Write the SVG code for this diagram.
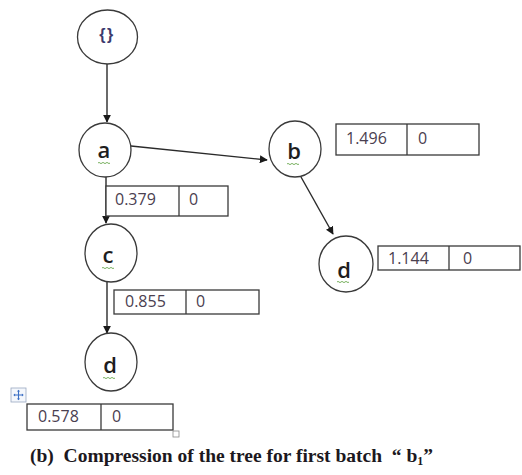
<svg xmlns="http://www.w3.org/2000/svg" width="522" height="475" viewBox="0 0 522 475">
  <style>
    .node { fill: #ffffff; stroke: #3a3a3a; stroke-width: 1.3; }
    .lbl { font-family: "Open Sans", "Liberation Sans", sans-serif; font-weight: 600; font-size: 22px; fill: #1e1e1e; }
    .squig { fill: none; stroke: #6aa84f; stroke-width: 0.9; }
    .cell { fill: #ffffff; stroke: #3a3a3a; stroke-width: 1.3; }
    .num { font-family: "Open Sans", "Liberation Sans", sans-serif; font-size: 16px; fill: #4a4050; }
    .edge { fill: none; stroke: #2a2a2a; stroke-width: 1.4; marker-end: url(#arrow); }
    .caption { font-family: "Liberation Serif", "Times New Roman", serif; font-weight: bold; font-size: 19.5px; fill: #1c1820; }
  </style>
  <defs>
    <marker id="arrow" viewBox="0 0 10 10" refX="9" refY="5" markerWidth="8" markerHeight="8" markerUnits="userSpaceOnUse" orient="auto">
      <path d="M0,0 L10,5 L0,10 z" fill="#1a1a1a"/>
    </marker>
    <path id="wave" d="M0,0 q1,-1.2 2,0 t2,0 t2,0 t2,0 t2,0 t2,0"/>
  </defs>

  <rect width="522" height="475" fill="#ffffff"/>

  <!-- connectors -->
  <g id="edges">
    <line class="edge" x1="107" y1="64" x2="107" y2="122"/>
    <line class="edge" x1="131" y1="146" x2="267" y2="160"/>
    <line class="edge" x1="106" y1="177" x2="106" y2="223"/>
    <line class="edge" x1="301" y1="177" x2="333" y2="234"/>
    <line class="edge" x1="107" y1="282" x2="107" y2="333"/>
  </g>

  <!-- root -->
  <g id="node-root">
    <ellipse class="node" cx="107.5" cy="37" rx="30" ry="27"/>
    <text x="107" y="40" text-anchor="middle" font-family="Liberation Sans, sans-serif" font-weight="bold" font-size="16" letter-spacing="1.5" fill="#3c3a6e">{}</text>
  </g>

  <!-- a -->
  <g id="node-a">
    <ellipse class="node" cx="105" cy="150" rx="26" ry="27"/>
    <text class="lbl" x="104" y="158" text-anchor="middle">a</text>
    <use href="#wave" class="squig" x="98" y="163"/>
  </g>

  <!-- b -->
  <g id="node-b">
    <ellipse class="node" cx="295" cy="149" rx="26" ry="28"/>
    <text class="lbl" x="294" y="159" text-anchor="middle">b</text>
    <use href="#wave" class="squig" x="287" y="164"/>
  </g>

  <!-- c -->
  <g id="node-c">
    <ellipse class="node" cx="111" cy="253" rx="26" ry="29"/>
    <text class="lbl" x="108" y="263" text-anchor="middle">c</text>
    <use href="#wave" class="squig" x="102" y="268"/>
  </g>

  <!-- d under c -->
  <g id="node-d1">
    <ellipse class="node" cx="111" cy="362" rx="26" ry="29"/>
    <text class="lbl" x="110" y="373" text-anchor="middle">d</text>
    <use href="#wave" class="squig" x="103" y="378"/>
  </g>

  <!-- d under b -->
  <g id="node-d2">
    <ellipse class="node" cx="346" cy="264" rx="27" ry="28"/>
    <text class="lbl" x="344" y="278" text-anchor="middle">d</text>
    <use href="#wave" class="squig" x="337" y="282"/>
  </g>

  <!-- value tables -->
  <g id="table-a">
    <rect class="cell" x="106" y="186" width="122" height="30"/>
    <line class="cell" x1="179" y1="186" x2="179" y2="216"/>
    <text class="num" x="115" y="205">0.379</text>
    <text class="num" x="189" y="205">0</text>
  </g>

  <g id="table-b">
    <rect class="cell" x="336" y="124" width="143" height="31"/>
    <line class="cell" x1="407" y1="124" x2="407" y2="155"/>
    <text class="num" x="346" y="144">1.496</text>
    <text class="num" x="418" y="144">0</text>
  </g>

  <g id="table-c">
    <rect class="cell" x="114" y="290" width="145" height="24"/>
    <line class="cell" x1="186" y1="290" x2="186" y2="314"/>
    <text class="num" x="125" y="307">0.855</text>
    <text class="num" x="196" y="307">0</text>
  </g>

  <g id="table-d2">
    <rect class="cell" x="378" y="246" width="142" height="24"/>
    <line class="cell" x1="449" y1="246" x2="449" y2="270"/>
    <text class="num" x="388" y="264">1.144</text>
    <text class="num" x="463" y="264">0</text>
  </g>

  <g id="table-d1">
    <rect class="cell" x="27" y="404" width="146" height="26"/>
    <line class="cell" x1="101" y1="404" x2="101" y2="430"/>
    <text class="num" x="38" y="422">0.578</text>
    <text class="num" x="112" y="422">0</text>
    <!-- table move handle and resize handle -->
    <rect x="11" y="388" width="15" height="14" fill="#f4f7fc" stroke="#9aa8c0" stroke-width="0.8"/>
    <path d="M18.5,390.5 v9 M14,395 h9" stroke="#3b6fc4" stroke-width="1.1"/>
    <path d="M18.5,389.8 l-1.6,1.8 h3.2 z M18.5,400.2 l-1.6,-1.8 h3.2 z M13.3,395 l1.8,-1.6 v3.2 z M23.7,395 l-1.8,-1.6 v3.2 z" fill="#3b6fc4"/>
    <rect x="173" y="431" width="6" height="6" fill="#ffffff" stroke="#8a8a8a" stroke-width="0.8"/>
  </g>

  <text class="caption" x="30" y="462" xml:space="preserve">(b)  Compression of the tree for first batch  “ b<tspan font-size="12" dy="3">1</tspan><tspan dy="-3">”</tspan></text>
</svg>
